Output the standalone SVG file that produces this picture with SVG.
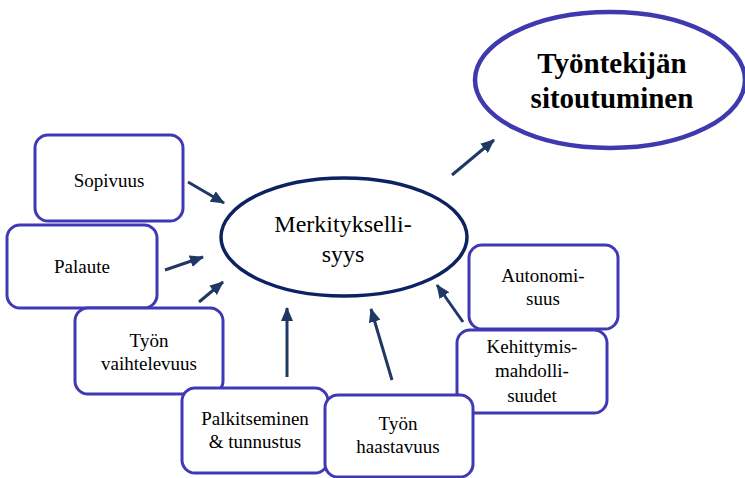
<svg xmlns="http://www.w3.org/2000/svg" width="745" height="478" viewBox="0 0 745 478">
<style>
.box{fill:#fff;stroke:#4138b4;stroke-width:3}
.lbl{font-size:19px;fill:#000;text-anchor:middle}
.big{font-size:24px;fill:#000;text-anchor:middle}
.title{font-size:29px;font-weight:bold;fill:#000;text-anchor:middle}
.arr{stroke:#1f3864;stroke-width:3;fill:none;marker-end:url(#ah)}
</style>
<defs>
<marker id="ah" markerUnits="userSpaceOnUse" markerWidth="14" markerHeight="12" refX="13" refY="6" orient="auto">
<path d="M0,0 L14,6 L0,12 Z" fill="#1f3864"/>
</marker>
</defs>
<rect width="745" height="478" fill="#fff"/>
<g id="connectors">
<line class="arr" x1="188" y1="182" x2="224" y2="203"/>
<line class="arr" x1="165" y1="270" x2="203" y2="257"/>
<line class="arr" x1="199" y1="302" x2="223" y2="282"/>
<line class="arr" x1="287" y1="377" x2="287" y2="308"/>
<line class="arr" x1="392" y1="380" x2="371" y2="309"/>
<line class="arr" x1="463" y1="322" x2="437" y2="285"/>
<line class="arr" x1="452" y1="175" x2="494" y2="140"/>
</g>
<g id="sitoutuminen">
<ellipse cx="610" cy="80" rx="135" ry="68" fill="#fff" stroke="#3f39b0" stroke-width="4.5"/>
<text class="title" font-family="Liberation Serif, serif" x="612" y="73">Työntekijän</text>
<text class="title" font-family="Liberation Serif, serif" x="612" y="108">sitoutuminen</text>
</g>
<g id="merkityksellisyys">
<ellipse cx="344" cy="237" rx="123" ry="59" fill="#fff" stroke="#0d2260" stroke-width="3.5"/>
<text class="big" font-family="Liberation Serif, serif" x="343" y="232">Merkitykselli-</text>
<text class="big" font-family="Liberation Serif, serif" x="343" y="262">syys</text>
</g>
<g id="sopivuus">
<rect class="box" x="35" y="135" width="148" height="86" rx="13"/>
<text class="lbl" font-family="Liberation Serif, serif" x="109" y="187">Sopivuus</text>
</g>
<g id="palaute">
<rect class="box" x="7" y="225" width="150" height="83" rx="13"/>
<text class="lbl" font-family="Liberation Serif, serif" x="82" y="273">Palaute</text>
</g>
<g id="vaihtelevuus">
<rect class="box" x="75" y="308" width="148" height="86" rx="13"/>
<text class="lbl" font-family="Liberation Serif, serif" x="149" y="347">Työn</text>
<text class="lbl" font-family="Liberation Serif, serif" x="149" y="370">vaihtelevuus</text>
</g>
<g id="palkitseminen">
<rect class="box" x="182" y="388" width="146" height="85" rx="13"/>
<text class="lbl" font-family="Liberation Serif, serif" x="255" y="425">Palkitseminen</text>
<text class="lbl" font-family="Liberation Serif, serif" x="255" y="448">&amp; tunnustus</text>
</g>
<g id="autonomisuus">
<rect class="box" x="469" y="245" width="149" height="84" rx="13"/>
<text class="lbl" font-family="Liberation Serif, serif" x="543" y="282">Autonomi-</text>
<text class="lbl" font-family="Liberation Serif, serif" x="543" y="305">suus</text>
</g>
<g id="kehittymis">
<rect class="box" x="457" y="330" width="150" height="83" rx="13"/>
<text class="lbl" font-family="Liberation Serif, serif" x="532" y="353">Kehittymis-</text>
<text class="lbl" font-family="Liberation Serif, serif" x="532" y="377">mahdolli-</text>
<text class="lbl" font-family="Liberation Serif, serif" x="532" y="402">suudet</text>
</g>
<g id="haastavuus">
<rect class="box" x="325" y="395" width="148" height="82" rx="13"/>
<text class="lbl" font-family="Liberation Serif, serif" x="398" y="430">Työn</text>
<text class="lbl" font-family="Liberation Serif, serif" x="398" y="453">haastavuus</text>
</g>
</svg>
